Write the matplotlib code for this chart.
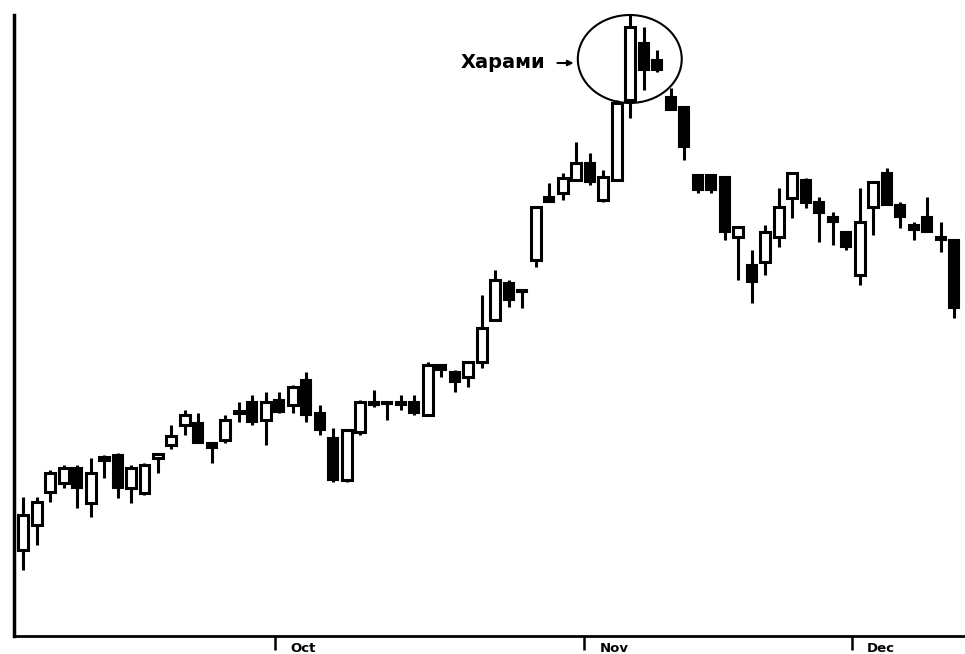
import numpy as np
import matplotlib.pyplot as plt
from matplotlib.patches import Ellipse, Rectangle
from matplotlib.transforms import blended_transform_factory

# daily candles (arbitrary price units)
opens = [8.6, 11.1, 14.4, 15.3, 16.8, 13.3, 17.6, 18.1, 14.8, 14.3,
         17.8, 19.1, 21.1, 21.3, 19.3, 19.6, 22.3, 23.4, 21.6, 23.6,
         23.1, 25.6, 22.3, 19.8, 15.6, 20.4, 23.4, 23.3, 23.4, 23.4,
         22.1, 27.1, 26.4, 25.9, 27.4, 31.6, 35.3, 34.6, 37.6, 43.9,
         44.3, 45.6, 47.3, 43.6, 45.6, 53.6, 59.3, 57.6, 53.9, 52.9,
         46.1, 46.1, 45.9, 39.9, 37.1, 37.4, 39.9, 43.8, 45.6, 43.4,
         41.9, 40.4, 36.1, 42.9, 46.3, 43.1, 41.1, 41.9, 39.9, 39.6]
highs = [13.9, 13.9, 16.6, 17.1, 17.1, 17.8, 18.1, 18.3, 17.1, 17.3,
         18.3, 21.1, 22.6, 22.3, 19.3, 22.1, 23.4, 24.1, 24.4, 24.4,
         25.1, 26.4, 23.1, 20.8, 20.6, 23.6, 24.6, 23.4, 24.1, 24.1,
         27.4, 27.1, 26.6, 27.4, 34.1, 36.6, 35.6, 34.6, 42.9, 45.3,
         46.3, 49.4, 48.3, 46.6, 53.6, 62.3, 60.9, 58.6, 54.8, 52.9,
         46.1, 46.1, 45.9, 40.9, 38.6, 41.1, 44.8, 46.3, 45.8, 43.9,
         42.4, 40.4, 44.8, 45.4, 46.8, 43.4, 41.4, 43.9, 41.4, 39.6]
lows = [6.6, 9.1, 13.4, 14.8, 12.8, 11.9, 15.8, 13.8, 13.3, 14.1,
        16.3, 18.7, 20.1, 19.3, 17.3, 19.3, 21.4, 21.1, 19.1, 22.3,
        22.3, 21.4, 20.1, 15.4, 15.4, 20.1, 22.9, 21.6, 22.6, 22.1,
        22.1, 25.9, 24.4, 24.9, 26.8, 31.6, 32.9, 32.8, 36.9, 43.4,
        43.6, 45.6, 45.1, 43.4, 45.6, 51.8, 54.6, 56.4, 52.6, 47.6,
        44.3, 44.3, 39.6, 35.6, 33.3, 36.1, 38.9, 41.8, 42.8, 39.4,
        39.1, 38.6, 35.1, 40.1, 43.1, 40.8, 39.6, 40.4, 38.4, 31.8]
closes = [12.1, 13.4, 16.3, 16.8, 14.8, 16.3, 17.9, 14.8, 16.8, 17.1,
          18.2, 20.0, 22.1, 19.3, 18.8, 21.6, 22.4, 21.4, 23.4, 22.4,
          24.9, 22.1, 20.6, 15.6, 20.6, 23.4, 23.1, 23.2, 23.1, 22.3,
          27.1, 26.6, 25.4, 27.4, 30.8, 35.6, 33.6, 34.4, 42.9, 43.4,
          45.8, 47.3, 45.4, 45.9, 53.3, 60.9, 56.6, 56.6, 52.6, 48.9,
          44.6, 44.6, 40.4, 40.9, 35.4, 40.4, 42.9, 46.3, 43.3, 42.3,
          41.4, 38.9, 41.4, 45.4, 43.1, 41.9, 40.6, 40.4, 39.6, 32.8]

month_labels = ["Oct", "Nov", "Dec"]
month_pos = [18.7, 41.6, 61.4]

fig = plt.figure(figsize=(9.65, 6.54), dpi=100)
ax = fig.add_axes([14 / 965, 18 / 654, 951 / 965, 621 / 654])

w = 0.74
for i in range(len(opens)):
    o, h, l, c = opens[i], highs[i], lows[i], closes[i]
    ax.plot([i, i], [l, h], color="black", lw=2.2, solid_capstyle="butt", zorder=1)
    bottom = min(o, c)
    height = max(abs(c - o), 0.25)
    if c >= o:
        rect = Rectangle((i - w / 2, bottom), w, height, facecolor="white",
                         edgecolor="black", lw=2.2, zorder=2)
    else:
        rect = Rectangle((i - w / 2, bottom), w, height, facecolor="black",
                         edgecolor="black", lw=1.5, zorder=2)
    ax.add_patch(rect)

# harami highlight
ax.add_patch(Ellipse((44.96, 57.7), 7.7, 8.8, fill=False, edgecolor="black",
                     lw=1.5, clip_on=False, zorder=3))
ax.text(38.7, 57.3, "Харами", ha="right", va="center", fontsize=14,
        fontweight="bold", family="DejaVu Sans")
ax.annotate("", xy=(40.8, 57.3), xytext=(39.6, 57.3),
            arrowprops=dict(arrowstyle="-|>", color="black", lw=1.5,
                            mutation_scale=8, shrinkA=0, shrinkB=0))

ax.set_xlim(-0.67, 69.8)
ax.set_ylim(0, 62.1)

for s in ["top", "right"]:
    ax.spines[s].set_visible(False)
ax.spines["left"].set_linewidth(2.5)
ax.spines["bottom"].set_linewidth(2.0)

ax.set_yticks([])
ax.set_xticks(month_pos)
ax.set_xticklabels([])
ax.tick_params(axis="x", direction="out", length=10, width=1.8)

trans = blended_transform_factory(ax.transData, ax.transAxes)
for p, lab in zip(month_pos, month_labels):
    ax.text(p + 1.1, -0.0255, lab, transform=trans, ha="left", va="baseline",
            fontsize=9.5, fontweight="heavy", family="DejaVu Sans")

plt.savefig("out.png", dpi=100)
